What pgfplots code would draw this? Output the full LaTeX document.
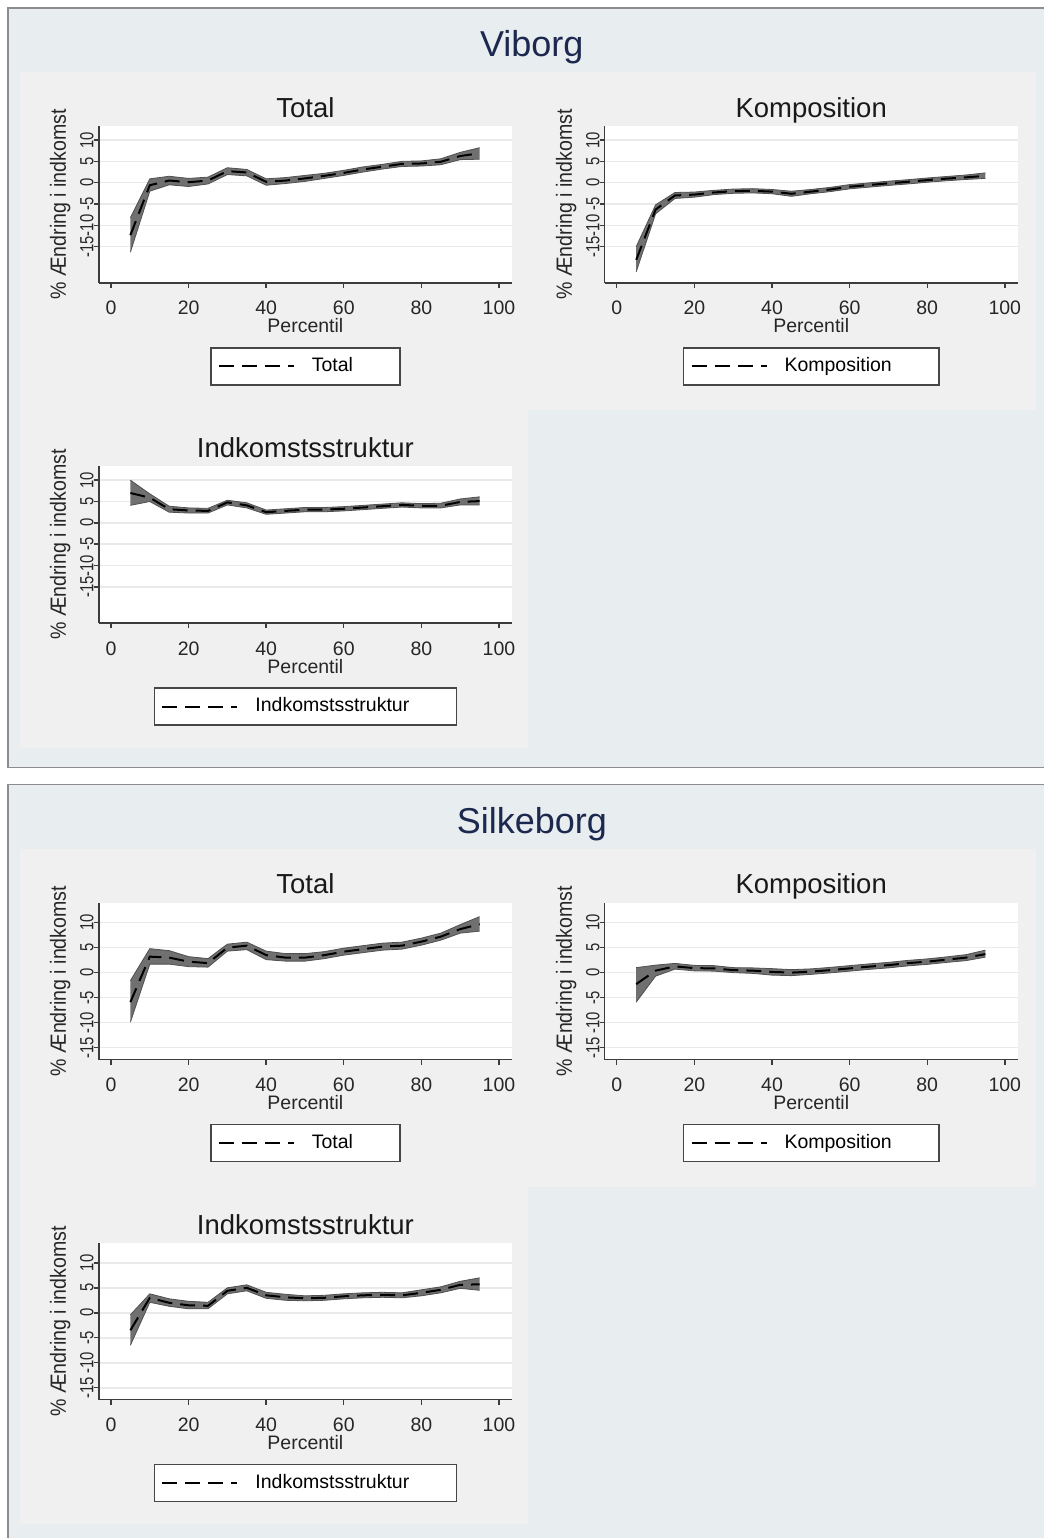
\documentclass[border=0pt]{standalone}
\usepackage{fontspec}
\setmainfont{Liberation Sans}
\newfontfamily\rotfont[FakeStretch=0.78]{Liberation Sans}
\newfontfamily\ylabfont[FakeStretch=0.89]{Liberation Sans}
\usepackage{pgfplots}
\pgfplotsset{compat=1.18}
\usepackage{pgfplotstable}
\usepgfplotslibrary{fillbetween}

\definecolor{panelbg}{RGB}{232,237,240}
\definecolor{cellbg}{RGB}{240,240,240}
\definecolor{navy}{RGB}{28,40,78}
\definecolor{axisc}{RGB}{60,60,60}
\definecolor{gridc}{RGB}{234,234,234}
\definecolor{bandc}{RGB}{112,112,112}
\definecolor{bandedge}{RGB}{80,80,80}
\definecolor{legc}{RGB}{70,70,70}
\definecolor{bordc}{RGB}{140,140,140}

\pgfdeclarelayer{bglayer}
\pgfplotsset{
  layers/mylayers/.define layer set={bglayer,axis background,axis grid,axis ticks,axis lines,axis tick labels,pre main,main,axis descriptions,axis foreground}{/pgfplots/layers/standard},
  set layers=mylayers,
}

% Viborg Total
\pgfplotstableread{
p lo mid hi
5 -16.3 -12.3 -8.2
10 -2.0 -0.6 0.9
15 -0.5 0.5 1.5
20 -0.9 0.1 1.0
25 -0.3 0.5 1.3
30 1.9 2.7 3.5
35 1.6 2.4 3.1
40 -0.6 0.2 0.9
45 -0.2 0.5 1.2
50 0.3 1.0 1.7
55 1.0 1.6 2.2
60 1.7 2.3 2.9
65 2.5 3.1 3.7
70 3.2 3.75 4.3
75 3.8 4.4 5.0
80 3.9 4.5 5.1
85 4.2 4.9 5.6
90 5.4 6.25 7.1
95 5.5 6.9 8.2
}\VT
% Viborg Komposition
\pgfplotstableread{
p lo mid hi
5 -20.9 -18.1 -15.0
10 -7.3 -6.3 -5.2
15 -3.7 -3.0 -2.3
20 -3.4 -2.8 -2.2
25 -2.8 -2.3 -1.8
30 -2.5 -2.0 -1.5
35 -2.4 -1.9 -1.4
40 -2.6 -2.1 -1.6
45 -3.2 -2.6 -2.0
50 -2.6 -2.1 -1.6
55 -2.1 -1.6 -1.1
60 -1.45 -0.95 -0.45
65 -1.05 -0.55 -0.05
70 -0.65 -0.15 0.35
75 -0.3 0.2 0.7
80 0.1 0.6 1.1
85 0.45 0.95 1.45
90 0.75 1.25 1.8
95 1.0 1.6 2.3
}\VK
% Viborg Indkomstsstruktur
\pgfplotstableread{
p lo mid hi
5 4.1 7.0 10.0
10 5.0 5.9 6.8
15 2.5 3.2 3.9
20 2.3 2.9 3.5
25 2.3 2.8 3.4
30 4.2 4.8 5.3
35 3.5 4.1 4.7
40 2.0 2.5 3.0
45 2.3 2.8 3.3
50 2.6 3.1 3.6
55 2.6 3.1 3.6
60 2.8 3.3 3.8
65 3.1 3.6 4.1
70 3.4 3.9 4.4
75 3.7 4.2 4.7
80 3.5 4.0 4.5
85 3.5 4.0 4.6
90 4.2 4.9 5.6
95 4.2 5.1 6.1
}\VI
% Silkeborg Total
\pgfplotstableread{
p lo mid hi
5 -9.9 -5.9 -1.6
10 1.7 3.2 4.8
15 1.7 3.0 4.4
20 1.2 2.2 3.2
25 1.1 1.9 2.8
30 4.3 5.0 5.7
35 4.6 5.4 6.1
40 2.6 3.5 4.3
45 2.3 3.0 3.8
50 2.3 3.0 3.8
55 2.8 3.5 4.2
60 3.5 4.2 4.9
65 4.0 4.7 5.4
70 4.5 5.2 5.9
75 4.7 5.4 6.1
80 5.5 6.2 6.9
85 6.5 7.2 7.9
90 7.9 8.7 9.6
95 8.3 9.7 11.2
}\ST
% Silkeborg Komposition
\pgfplotstableread{
p lo mid hi
5 -5.9 -2.3 1.0
10 -0.7 0.4 1.5
15 0.7 1.25 1.85
20 0.35 0.9 1.45
25 0.3 0.85 1.4
30 0.0 0.5 1.0
35 -0.15 0.4 0.95
40 -0.5 0.15 0.8
45 -0.6 0.0 0.6
50 -0.35 0.2 0.75
55 -0.05 0.5 1.05
60 0.3 0.85 1.4
65 0.65 1.2 1.75
70 0.95 1.5 2.05
75 1.35 1.9 2.45
80 1.65 2.2 2.75
85 2.05 2.6 3.15
90 2.4 3.0 3.6
95 3.1 3.7 4.5
}\SK
% Silkeborg Indkomstsstruktur
\pgfplotstableread{
p lo mid hi
5 -6.5 -3.5 -0.4
10 2.1 3.0 3.8
15 1.3 2.0 2.8
20 0.8 1.5 2.3
25 0.8 1.4 2.1
30 3.8 4.4 5.0
35 4.4 5.0 5.6
40 2.9 3.5 4.1
45 2.5 3.1 3.7
50 2.4 2.9 3.4
55 2.5 3.0 3.5
60 2.8 3.3 3.8
65 3.0 3.5 4.0
70 3.1 3.6 4.1
75 3.0 3.5 4.0
80 3.4 4.0 4.6
85 4.0 4.6 5.2
90 4.9 5.6 6.3
95 4.5 5.7 7.0
}\SI

\pgfplotsset{
  sub/.style={
    scale only axis, width=413pt, height=157pt,
    xmin=-3.1, xmax=103.3,
    axis x line*=bottom, axis y line*=left,
    axis line style={line width=1.4pt, color=axisc},
    tick style={line width=1.4pt, color=axisc},
    tick align=outside, major tick length=5pt,
    xtick={0,20,40,60,80,100}, xticklabels={0,20,40,60,80,100},
    ytick={-15,-10,-5,0,5,10}, yticklabels={-15,-10,-5,0,5,10},
    ymajorgrids, major grid style={line width=1.5pt, color=gridc},
    axis background/.style={fill=white},
    xticklabel style={anchor=base, font=\fontsize{19.5}{23}\selectfont, color=black!85},
    xticklabel shift=27pt,
    yticklabel style={rotate=90, anchor=base, font=\rotfont\fontsize{19}{22}\selectfont, color=black!85},
    yticklabel shift=0.5pt,
    xlabel={Percentil}, ylabel={\% Ændring i indkomst},
    xlabel style={at={(axis description cs:0.5,0)}, anchor=base, yshift=-50pt,
      font=\fontsize{19.5}{23}\selectfont, color=black!85},
    ylabel style={at={(axis description cs:-0.0799,0.5)}, anchor=base,
      font=\ylabfont\fontsize{22}{26}\selectfont, color=black!85},
    title style={at={(axis description cs:0.5,1)}, anchor=base, yshift=2.7pt,
      font=\fontsize{27.5}{30}\selectfont, color=black!90},
    legend style={at={(axis description cs:0.5,0)}, anchor=center, yshift=-83.5pt,
      draw=legc, line width=1.5pt, fill=white, font=\fontsize{19.5}{23}\selectfont,
      inner xsep=7pt, inner ysep=7.5pt, column sep=17pt,
      nodes={inner sep=0pt, text height=16pt, text depth=6pt}},
    legend cell align=left,
    legend image code/.code={\draw[##1] (0pt,0pt) -- (75pt,0pt);},
  },
  bandline/.style={color=bandedge, line width=0.8pt, forget plot},
  bandfill/.style={fill=bandc, draw=none, forget plot},
  mainline/.style={black, line width=2pt, dash pattern=on 15pt off 8pt},
}

\newcommand\subpanel[7]{%
\begin{axis}[sub, at={(#1pt,#2pt)}, anchor=south west, ymin=#3, ymax=#4, title={#5}]
\addplot[name path=hi, bandline] table[x=p,y=hi]{#6};
\addplot[name path=lo, bandline] table[x=p,y=lo]{#6};
\addplot[bandfill] fill between[of=hi and lo];
\addplot[mainline] table[x=p,y=mid]{#6};
\addlegendentry{#7\hspace*{40pt}}
\end{axis}}

\begin{document}
\begin{tikzpicture}
\subpanel{99}{-283}{-23.5}{13.3}{Total}{\VT}{Total}
\subpanel{605}{-283}{-23.5}{13.3}{Komposition}{\VK}{Komposition}
\subpanel{99}{-623.3}{-23.5}{13.3}{Indkomstsstruktur}{\VI}{Indkomstsstruktur}
\subpanel{99}{-1060}{-17.4}{14.0}{Total}{\ST}{Total}
\subpanel{605}{-1060}{-17.4}{14.0}{Komposition}{\SK}{Komposition}
\subpanel{99}{-1400.3}{-17.4}{14.0}{Indkomstsstruktur}{\SI}{Indkomstsstruktur}

\begin{pgfonlayer}{bglayer}
\fill[white] (0pt,0pt) rectangle (1044pt,-1539pt);
% Viborg panel
\fill[panelbg] (8pt,-8pt) rectangle (1044pt,-768pt);
\draw[bordc, line width=1.2pt] (1044pt,-8pt) -- (8pt,-8pt) -- (8pt,-768pt) -- (1044pt,-768pt);
\fill[cellbg] (20pt,-72pt) rectangle (528pt,-410pt);
\fill[cellbg] (528pt,-72pt) rectangle (1036pt,-410pt);
\fill[cellbg] (20pt,-410pt) rectangle (528pt,-748pt);
\node[anchor=base, font=\fontsize{36}{40}\selectfont, text=navy] at (532pt,-57pt) {Viborg};
% Silkeborg panel
\fill[panelbg] (8pt,-785pt) rectangle (1044pt,-1539pt);
\draw[bordc, line width=1.2pt] (1044pt,-785pt) -- (8pt,-785pt) -- (8pt,-1539pt);
\fill[cellbg] (20pt,-849pt) rectangle (528pt,-1187pt);
\fill[cellbg] (528pt,-849pt) rectangle (1036pt,-1187pt);
\fill[cellbg] (20pt,-1187pt) rectangle (528pt,-1525pt);
\node[anchor=base, font=\fontsize{36}{40}\selectfont, text=navy] at (532pt,-834pt) {Silkeborg};
\end{pgfonlayer}
\end{tikzpicture}
\end{document}
